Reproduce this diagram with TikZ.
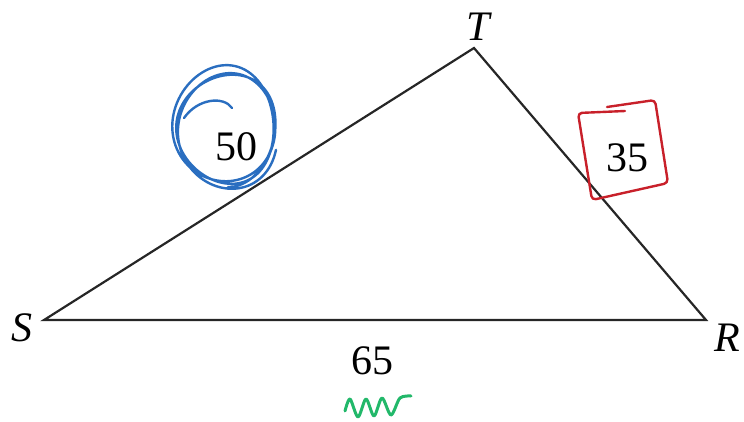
\documentclass[tikz,border=0pt]{standalone}
\usepackage{fontspec}
\setmainfont{Liberation Serif}
\usetikzlibrary{calc}
\definecolor{penBlue}{HTML}{2A6EC0}
\definecolor{penRed}{HTML}{C8202A}
\definecolor{penGreen}{HTML}{22B86A}
\tikzset{
  vlabel/.style={font=\fontsize{42}{48}\selectfont\itshape, inner sep=0pt},
  slabel/.style={font=\fontsize{42}{48}\selectfont, inner sep=0pt},
  side/.style={line width=2.2pt, black!85, line join=miter},
  ink/.style={line width=2.4pt, line cap=round, line join=round, #1},
}

\begin{document}
\begin{tikzpicture}[x=1pt, y=-1pt]
  \useasboundingbox (0,0) rectangle (744,421);

  % vertices
  \coordinate (S) at (44,320);
  \coordinate (T) at (474,48);
  \coordinate (R) at (706,320);

  % triangle
  \draw[side] (S) -- (T) -- (R) -- cycle;

  % vertex labels
  \node[vlabel] (labS) at (22,328) {S};
  \node[vlabel] (labT) at (478,27) {T};
  \node[vlabel] (labR) at (727,338) {R};

  % side lengths
  \node[slabel] (len50) at (236,147) {50};
  \node[slabel] (len35) at (627,158) {35};
  \node[slabel] (len65) at (372,361) {65};

  % blue circle scribble
  \draw[ink=penBlue] plot[domain=0:1150, samples=300, smooth]
    ({229+(50+5*sin(\x*0.9))*cos(\x+20)+2*sin(\x*0.5)},
     {127+(57+4*cos(\x*0.6))*sin(\x+20)+2*cos(\x*0.4)});
  \draw[ink=penBlue] (184,118) .. controls (198,98) and (224,96) .. (232,108);

  % red box scribble
  \draw[ink=penRed, rounded corners=4pt] (625,111) -- (578,113) -- (592,200)
    -- (668,183) -- (655,100) -- (607,107);

  % green squiggle
  \draw[ink=penGreen, line width=3pt] plot[smooth] coordinates {(345,411) (350,399)
    (358,417) (366,399) (374,416) (382,398) (391,415) (400,398) (411,396)};
\end{tikzpicture}
\end{document}
